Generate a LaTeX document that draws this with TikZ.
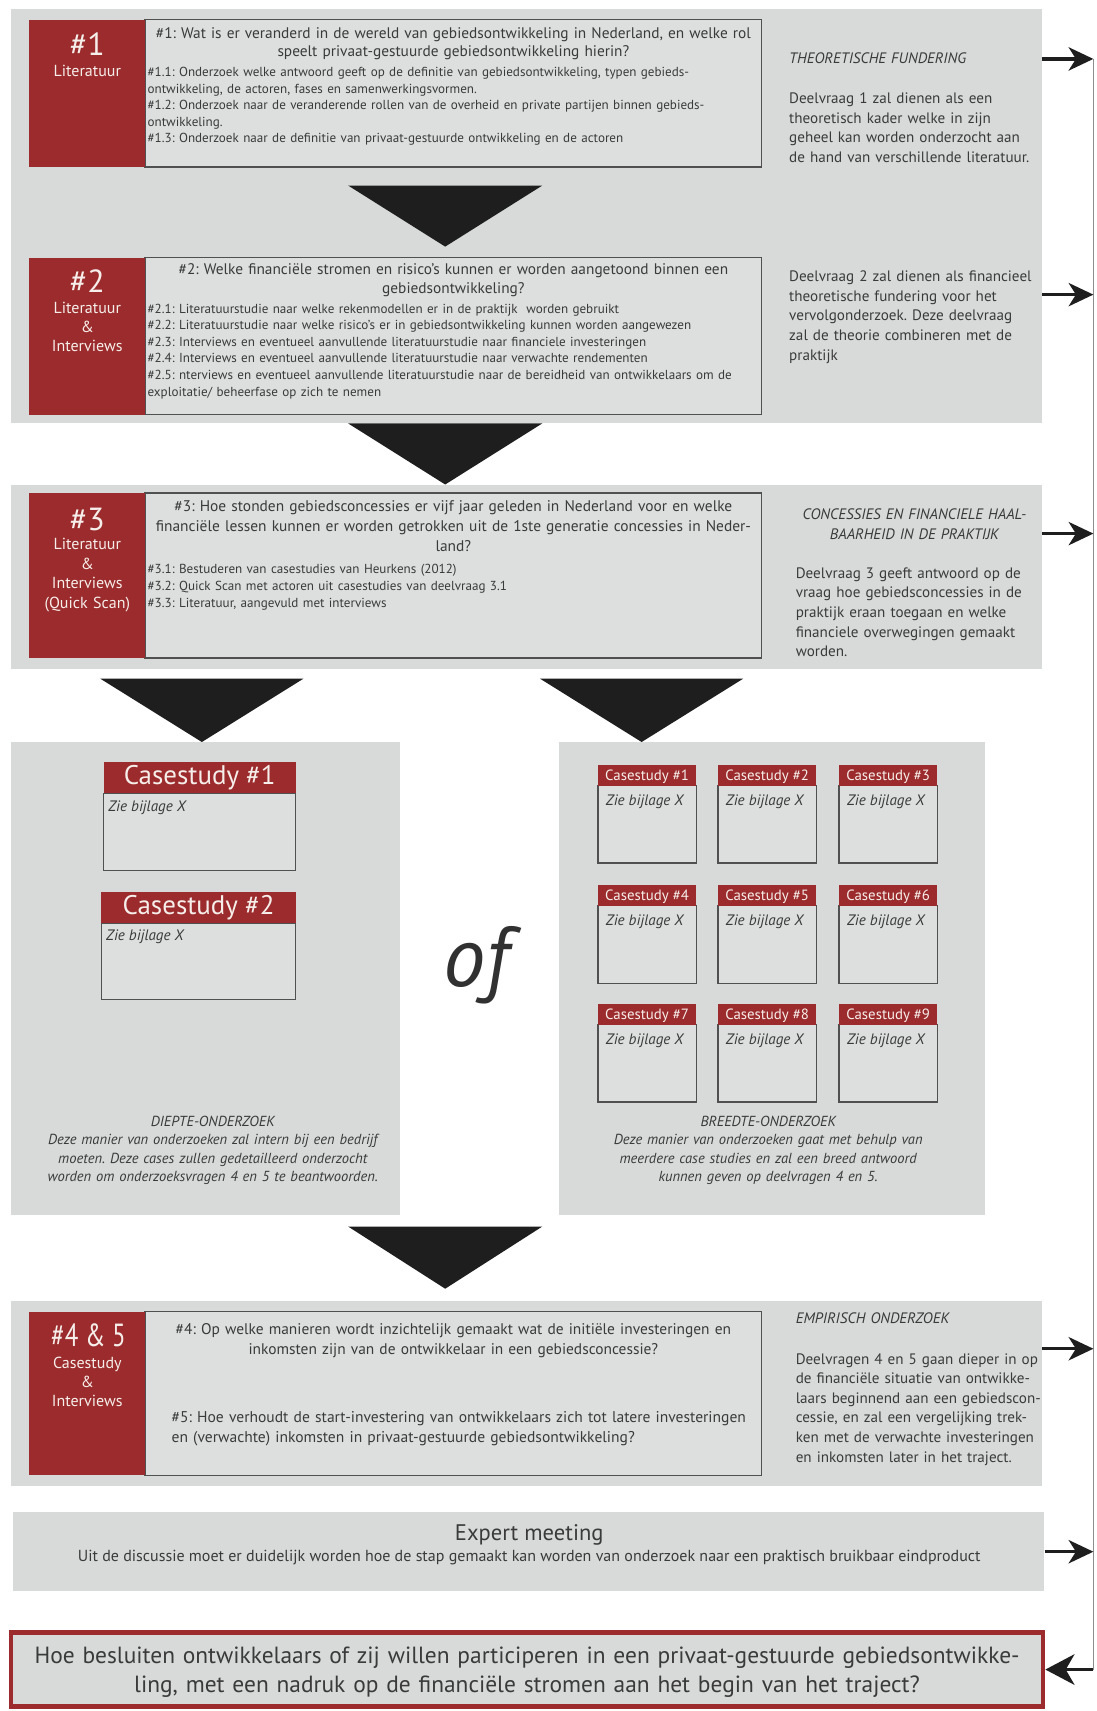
\documentclass[tikz,border=0pt]{standalone}
\usepackage{fontspec}
\usepackage{graphicx}
\setmainfont{PT Sans}
\usetikzlibrary{fit,arrows.meta}
\frenchspacing

\definecolor{panelgray}{HTML}{D8DADA}
\definecolor{boxgray}{HTML}{DDDFDF}
\definecolor{brick}{HTML}{9B2B2C}
\definecolor{ink}{HTML}{3A3A3A}
\definecolor{rim}{HTML}{505050}
\definecolor{wedge}{HTML}{1E1E1E}
\definecolor{paper}{HTML}{F6EEEA}
\definecolor{railgray}{HTML}{8C8C8C}

\newcommand\fTabNum{\fontsize{22}{26}\selectfont}
\newcommand\fTab{\fontsize{11}{13.2}\selectfont}
\newcommand\fCsBig{\fontsize{18.5}{21}\selectfont}
\newcommand\fCsSmall{\fontsize{10.2}{12}\selectfont}
\newcommand\fZie{\fontsize{10.4}{12}\selectfont\itshape}
\newcommand\fPanel{\fontsize{10}{12.75}\selectfont\itshape}
\newcommand\fQ{\fontsize{10.55}{12.75}\selectfont}
\newcommand\fQwide{\fontsize{10.6}{13.5}\selectfont}
\newcommand\fSub{\fontsize{9}{11.4}\selectfont}

\tikzset{
  panel/.style={fill=panelgray, inner sep=0pt, draw=none},
  tab/.style={fill=brick, inner sep=0pt, draw=none},
  qbox/.style={fill=boxgray, draw=rim, line width=1.1pt, inner sep=0pt},
  csbody/.style={fill=boxgray, draw=rim, line width=0.9pt, inner sep=0pt},
  wedgefill/.style={fill=wedge, draw=none},
  lab/.style={inner sep=0pt, text=paper, anchor=base},
  tablab/.style={inner sep=0pt, text=paper, anchor=base, text width=78pt, align=center, font=\fTab},
  txt/.style={inner sep=0pt, text=ink},
  qtext/.style={txt, anchor=base, text width=470pt, align=center},
  subtext/.style={txt, anchor=base west, text width=480pt, align=left},
  sidetext/.style={txt, anchor=base west, text width=200pt, align=left,
    font=\fontsize{10.4}{13.5}\selectfont},
  flow/.style={draw=wedge, line width=2.2pt, -{Stealth[length=17pt,width=16pt,inset=5pt]}},
  flowin/.style={draw=wedge, line width=2.2pt, -{Stealth[length=20pt,width=21pt,inset=6pt]}},
  rail/.style={draw=railgray, line width=0.8pt},
}

\begin{document}
\begin{tikzpicture}[x=0.75pt,y=-0.75pt]
\useasboundingbox[fill=white] (0,0) rectangle (1005,1568);

% ---------- research questions 1 and 2 ----------
\node[panel, fit={(10,8)(955,388)}] (bgA) {};

\node[qbox, fit={(133,18)(698,153)}] (q1) {};
\node[tab, fit={(27,18)(133,153)}] (tab1) {};
\node[lab, font=\fTabNum] (tab1num) at (80,51) {\#1};
\node[tablab] (tab1src) at (80,70) {Literatuur};
\node[qtext, font=\fQ] (q1main) at (415.5,35)
  {\#1: Wat is er veranderd in de wereld van gebiedsontwikkeling in Nederland, en welke rol\\
   speelt privaat-gestuurde gebiedsontwikkeling hierin?};
\node[subtext, font=\fontsize{9}{11.44}\selectfont] (q1sub) at (135,70)
  {\#1.1: Onderzoek welke antwoord geeft op de definitie van gebiedsontwikkeling, typen gebieds-\\
   ontwikkeling, de actoren, fases en samenwerkingsvormen.\\
   \#1.2: Onderzoek naar de veranderende rollen van de overheid en private partijen binnen gebieds-\\
   ontwikkeling.\\
   \#1.3: Onderzoek naar de definitie van privaat-gestuurde ontwikkeling en de actoren};
\node[sidetext, font=\fontsize{10.4}{13.5}\selectfont\itshape] (r1head) at (723,58)
  {THEORETISCHE FUNDERING};
\node[sidetext] (r1body) at (723,95)
  {Deelvraag 1 zal dienen als een\\
   theoretisch kader welke in zijn\\
   geheel kan worden onderzocht aan\\
   de hand van verschillende literatuur.};

\fill[wedgefill] (319,170) -- (497,170) -- (408,226) -- cycle;

\node[qbox, fit={(133,236)(698,380)}] (q2) {};
\node[tab, fit={(27,236)(133,380)}] (tab2) {};
\node[lab, font=\fTabNum] (tab2num) at (80,268) {\#2};
\node[tablab] (tab2src) at (80,287) {Literatuur\\ \&\\ Interviews};
\node[qtext, font=\fQ] (q2main) at (415.5,252)
  {\#2: Welke financiële stromen en risico’s kunnen er worden aangetoond binnen een\\
   gebiedsontwikkeling?};
\node[subtext, font=\fSub] (q2sub) at (135,287)
  {\#2.1: Literatuurstudie naar welke rekenmodellen er in de praktijk\ \ worden gebruikt\\
   \#2.2: Literatuurstudie naar welke risico’s er in gebiedsontwikkeling kunnen worden aangewezen\\
   \#2.3: Interviews en eventueel aanvullende literatuurstudie naar financiele investeringen\\
   \#2.4: Interviews en eventueel aanvullende literatuurstudie naar verwachte rendementen\\
   \#2.5: nterviews en eventueel aanvullende literatuurstudie naar de bereidheid van ontwikkelaars om de\\
   exploitatie/ beheerfase op zich te nemen};
\node[sidetext] (r2body) at (723,258)
  {Deelvraag 2 zal dienen als financieel\\
   theoretische fundering voor het\\
   vervolgonderzoek. Deze deelvraag\\
   zal de theorie combineren met de\\
   praktijk};

\fill[wedgefill] (319,388) -- (497,388) -- (408,444) -- cycle;

% ---------- research question 3 ----------
\node[panel, fit={(10,444)(955,613)}] (bgB) {};
\node[qbox, fit={(133,452)(698,603)}] (q3) {};
\node[tab, fit={(27,452)(133,603)}] (tab3) {};
\node[lab, font=\fTabNum] (tab3num) at (80,486) {\#3};
\node[tablab, font=\fontsize{11}{13.3}\selectfont] (tab3src) at (80,504)
  {Literatuur\\ \&\\ Interviews\\ (Quick Scan)};
\node[qtext, font=\fQwide] (q3main) at (415.5,469)
  {\#3: Hoe stonden gebiedsconcessies er vijf jaar geleden in Nederland voor en welke\\
   financiële lessen kunnen er worden getrokken uit de 1ste generatie concessies in Neder-\\
   land?};
\node[subtext, font=\fSub] (q3sub) at (135,526)
  {\#3.1: Bestuderen van casestudies van Heurkens (2012)\\
   \#3.2: Quick Scan met actoren uit casestudies van deelvraag 3.1\\
   \#3.3: Literatuur, aangevuld met interviews};
\node[txt, anchor=base, text width=200pt, align=center,
      font=\fontsize{10.4}{13.5}\selectfont\itshape] (r3head) at (838,476)
  {CONCESSIES EN FINANCIELE HAAL-\\ BAARHEID IN DE PRAKTIJK};
\node[sidetext] (r3body) at (729,530)
  {Deelvraag 3 geeft antwoord op de\\
   vraag hoe gebiedsconcessies in de\\
   praktijk eraan toegaan en welke\\
   financiele overwegingen gemaakt\\
   worden.};

\fill[wedgefill] (92,622) -- (278,622) -- (185,680) -- cycle;
\fill[wedgefill] (495,622) -- (681,622) -- (588,680) -- cycle;

% ---------- in-depth study ----------
\node[panel, fit={(10,680)(367,1113)}] (deep) {};
\node[csbody, fit={(95,727)(271,798)}] (cs1body) {};
\node[tab, fit={(95,698)(271,727)}] (cs1head) {};
\node[lab, font=\fCsBig] (cs1title) at (183,719) {Casestudy \#1};
\node[txt, anchor=base west, font=\fZie] (cs1note) at (99,744) {Zie bijlage X};
\node[csbody, fit={(93,846)(271,916)}] (cs2body) {};
\node[tab, fit={(93,817)(271,846)}] (cs2head) {};
\node[lab, font=\fCsBig] (cs2title) at (182,838) {Casestudy \#2};
\node[txt, anchor=base west, font=\fZie] (cs2note) at (97,862) {Zie bijlage X};
\node[txt, anchor=base, text width=260pt, align=center, font=\fPanel] (deeptext) at (195,1032)
  {DIEPTE-ONDERZOEK\\
   Deze manier van onderzoeken zal intern bij een bedrijf\\
   moeten. Deze cases zullen gedetailleerd onderzocht\\
   worden om onderzoeksvragen 4 en 5 te beantwoorden.};

\node[txt, anchor=base west, text=ink!85!black, font=\fontsize{58}{62}\selectfont\itshape] (ofword) at (406,904) {of};

% ---------- broad study ----------
\node[panel, fit={(512,680)(903,1113)}] (broad) {};
\foreach \r/\yt in {0/701,1/811,2/920}{
  \foreach \c/\xl in {0/548,1/658,2/769}{
    \pgfmathtruncatemacro\k{3*\r+\c+1}
    \node[csbody, fit={(\xl,\yt+19)(\xl+90,\yt+90)}] (gb\k) {};
    \node[tab, fit={(\xl,\yt)(\xl+90,\yt+19)}] (gh\k) {};
    \node[lab, font=\fCsSmall] (gt\k) at (\xl+45,\yt+14) {Casestudy \#\k};
    \node[txt, anchor=base west, font=\fZie] (gz\k) at (\xl+7,\yt+37) {Zie bijlage X};
  }
}
\node[txt, anchor=base, text width=280pt, align=center, font=\fPanel] (broadtext) at (704,1032)
  {BREEDTE-ONDERZOEK\\
   Deze manier van onderzoeken gaat met behulp van\\
   meerdere case studies en zal een breed antwoord\\
   kunnen geven op deelvragen 4 en 5.};

\fill[wedgefill] (319,1124) -- (497,1124) -- (408,1181) -- cycle;

% ---------- research questions 4 and 5 ----------
\node[panel, fit={(10,1192)(955,1362)}] (bgC) {};
\node[qbox, fit={(133,1202)(698,1352)}] (q4) {};
\node[tab, fit={(27,1202)(133,1352)}] (tab4) {};
\node[lab, font=\fTabNum] (tab4num) at (81,1234) {\scalebox{0.78}[1]{\#4 \& 5}};
\node[tablab] (tab4src) at (80,1254) {Casestudy\\ \&\\ Interviews};
\node[qtext, font=\fQwide] (q4main) at (415.5,1223)
  {\#4: Op welke manieren wordt inzichtelijk gemaakt wat de initiële investeringen en\\
   inkomsten zijn van de ontwikkelaar in een gebiedsconcessie?};
\node[subtext, font=\fontsize{10.7}{13.5}\selectfont] (q5main) at (157,1304)
  {\#5: Hoe verhoudt de start-investering van ontwikkelaars zich tot latere investeringen\\
   en (verwachte) inkomsten in privaat-gestuurde gebiedsontwikkeling?};
\node[sidetext, font=\fontsize{10.4}{13.5}\selectfont\itshape] (r4head) at (729,1213)
  {EMPIRISCH ONDERZOEK};
\node[sidetext] (r4body) at (729,1250)
  {Deelvragen 4 en 5 gaan dieper in op\\
   de financiële situatie van ontwikke-\\
   laars beginnend aan een gebiedscon-\\
   cessie, en zal een vergelijking trek-\\
   ken met de verwachte investeringen\\
   en inkomsten later in het traject.};

% ---------- expert meeting ----------
\node[panel, fit={(12,1386)(957,1458)}] (expert) {};
\node[txt, anchor=base, font=\fontsize{15.5}{18}\selectfont] (experttitle) at (485,1412) {Expert meeting};
\node[txt, anchor=base, font=\fontsize{11}{13}\selectfont] (expertline) at (485,1431)
  {Uit de discussie moet er duidelijk worden hoe de stap gemaakt kan worden van onderzoek naar een praktisch bruikbaar eindproduct};

% ---------- main question ----------
\node[fill=panelgray, draw=brick, line width=3pt, inner sep=0pt, fit={(10,1496)(956,1564)}] (final) {};
\node[qtext, text width=720pt, font=\fontsize{16.1}{20.25}\selectfont] (finaltext) at (483,1524)
  {Hoe besluiten ontwikkelaars of zij willen participeren in een privaat-gestuurde gebiedsontwikke-\\
   ling, met een nadruk op de financiële stromen aan het begin van het traject?};

% ---------- feedback rail on the right ----------
\coordinate (railtop) at (1002,54);
\coordinate (rail2) at (1002,270);
\coordinate (rail3) at (1002,489);
\coordinate (rail4) at (1002,1236);
\coordinate (rail5) at (1002,1422);
\coordinate (railbot) at (1002,1530);
\draw[rail] (railtop) -- (railbot);
\draw[flow] (bgA.east |- railtop) -- (railtop);
\draw[flow] (bgA.east |- rail2) -- (rail2);
\draw[flow] (bgB.east |- rail3) -- (rail3);
\draw[flow] (bgC.east |- rail4) -- (rail4);
\draw[flow] (expert.east |- rail5) -- (rail5);
\draw[flowin] (railbot) -- (final.east |- railbot);
\end{tikzpicture}
\end{document}
